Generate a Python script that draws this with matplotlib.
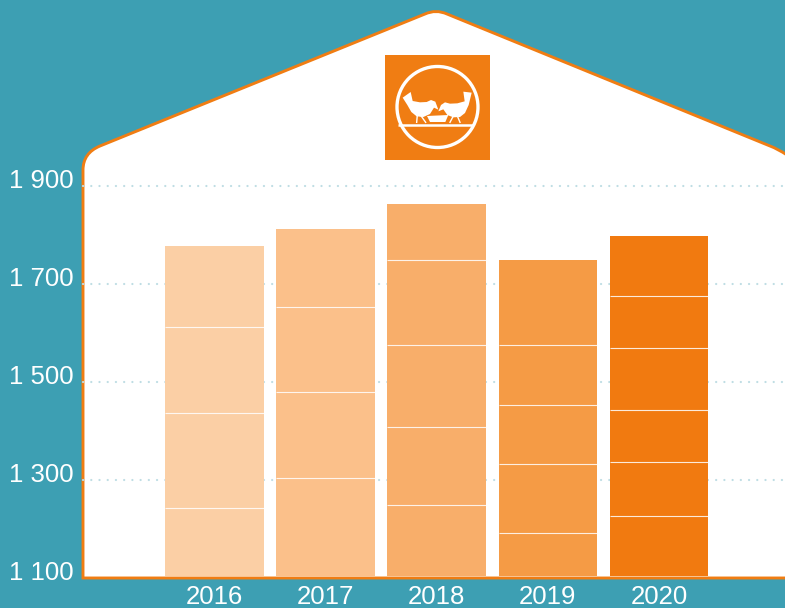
import matplotlib
matplotlib.use('Agg')
import matplotlib.pyplot as plt
from matplotlib.patches import PathPatch, Polygon, Circle, Rectangle
from matplotlib.path import Path
from matplotlib.transforms import ScaledTranslation

plt.rcParams['font.family'] = ['Liberation Sans', 'DejaVu Sans']

years = ['2016', '2017', '2018', '2019', '2020']
yticks = [1100, 1300, 1500, 1700, 1900]
ylabels = ['1 100', '1 300', '1 500', '1 700', '1 900']
# top of each stacked block
levels_2016 = [1243, 1437, 1612, 1778]
levels_2017 = [1304, 1480, 1653, 1812]
levels_2018 = [1249, 1408, 1576, 1749, 1863]
levels_2019 = [1192, 1333, 1453, 1576, 1749]
levels_2020 = [1227, 1337, 1443, 1569, 1676, 1798]
levels = [levels_2016, levels_2017, levels_2018, levels_2019, levels_2020]
colors = ['#FBCFA5', '#FBC08A', '#F8AE6A', '#F59B45', '#F17A10']

TEAL = '#3D9FB3'
ORANGE = '#F07D13'
W, H = 785, 608

fig = plt.figure(figsize=(W / 100, H / 100), dpi=100, facecolor=TEAL)

# background layer in pixels: the house and the logo
bg = fig.add_axes([0, 0, 1, 1])
bg.set_xlim(0, W)
bg.set_ylim(H, 0)
bg.axis('off')

verts = [(83, 578), (83, 170), (83, 153), (100, 146), (425, 14), (436, 9), (447, 14),
         (770, 146), (778, 149), (787, 155), (787, 578), (83, 578)]
codes = [Path.MOVETO, Path.LINETO, Path.CURVE3, Path.CURVE3, Path.LINETO, Path.CURVE3, Path.CURVE3,
         Path.LINETO, Path.CURVE3, Path.CURVE3, Path.LINETO, Path.CLOSEPOLY]
bg.add_patch(PathPatch(Path(verts, codes), fc='white', ec=ORANGE, lw=2.1, joinstyle='miter'))

bg.add_patch(Rectangle((385, 55), 105, 105, fc=ORANGE, ec='none'))
bg.add_patch(Circle((437.5, 107), 40.5, fc='none', ec='white', lw=2.4))
bg.plot([398, 473], [125, 125], color='white', lw=1.8, solid_capstyle='butt')


def zoomed(pts):
    # coordinates measured on the 3x crop of the logo
    return [(370 + x / 3, 40 + y / 3) for x, y in pts]


left_bird = [(98, 173), (122, 156), (128, 183), (150, 187), (170, 186), (183, 180), (196, 185), (205, 209),
             (192, 203), (180, 222), (160, 231), (140, 229), (124, 216), (112, 195)]
right_bird = [(305, 158), (280, 155), (284, 184), (262, 190), (240, 191), (225, 187), (213, 195), (205, 214),
              (220, 208), (232, 225), (250, 232), (270, 231), (285, 219), (296, 195)]
bowl = [(171, 228), (235, 225), (226, 246), (180, 246)]
for shape in (left_bird, right_bird, bowl):
    bg.add_patch(Polygon(zoomed(shape), fc='white', ec='none'))
for leg in ([(142, 225), (140, 247)], [(152, 226), (167, 247)],
            [(262, 228), (270, 247)], [(250, 228), (240, 247)]):
    xs, ys = zip(*zoomed(leg))
    bg.plot(xs, ys, color='white', lw=1.0)

# chart layer
ax = fig.add_axes([83 / W, (H - 578) / H, (W - 83) / W, (578 - 186) / H])
ax.patch.set_alpha(0)
ax.set_ylim(1100, 1900)
ax.set_xlim(-1.187, 5.135)

base = 1104
for i, year_levels in enumerate(levels):
    bottom = base
    for top in year_levels:
        ax.bar(i, top - bottom, bottom=bottom, width=0.89, color=colors[i], linewidth=0, zorder=2)
        bottom = top
    ax.hlines(year_levels[:-1], i - 0.445, i + 0.445, color='white', lw=0.8, alpha=0.85, zorder=3)

ax.set_xticks(range(len(years)))
ax.set_xticklabels(years)
ax.set_yticks(yticks)
ax.set_yticklabels(ylabels)
ax.tick_params(length=0, labelsize=18.5, labelcolor='white')
ax.tick_params(axis='x', pad=5)
ax.tick_params(axis='y', pad=7)
for lab in ax.get_yticklabels():
    lab.set_transform(lab.get_transform() + ScaledTranslation(0, 7 / 100, fig.dpi_scale_trans))

for y in yticks[1:]:
    ax.axhline(y, color='#BFDDE4', lw=1.6, ls=(0, (0.05, 3.65)), dash_capstyle='round', zorder=1, clip_on=False)

for s in ax.spines.values():
    s.set_visible(False)

fig.savefig('out.png', dpi=100, facecolor=TEAL)
